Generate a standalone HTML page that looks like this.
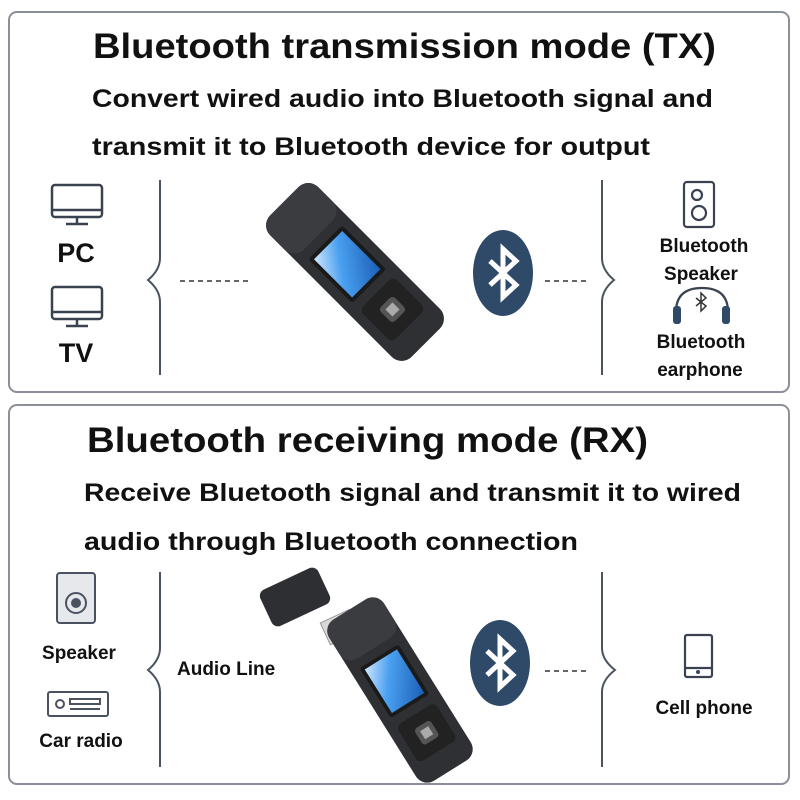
<!DOCTYPE html>
<html><head><meta charset="utf-8"><style>
html,body{margin:0;padding:0;background:#fff}
svg{display:block}
text{font-family:"Liberation Sans","DejaVu Sans",sans-serif;font-weight:bold;fill:#111}
</style></head><body>
<svg width="800" height="800" viewBox="0 0 800 800" xmlns="http://www.w3.org/2000/svg">
<defs>
<linearGradient id="scr" x1="0" y1="0" x2="1" y2="1">
<stop offset="0" stop-color="#cfe6ff"/><stop offset="0.4" stop-color="#4aa0f0"/><stop offset="1" stop-color="#1b5fb8"/>
</linearGradient>
<g id="bt">
<ellipse cx="0" cy="0" rx="30" ry="43" fill="#2f4a68"/>
<path d="M-13,-12 L13,12 L0,24 L0,-24 L13,-12 L-13,12" fill="none" stroke="#fff" stroke-width="5" stroke-linejoin="miter"/>
</g>
<g id="mon" fill="none" stroke="#3a4250" stroke-width="2.5">
<rect x="0" y="0" width="50" height="32" rx="3"/>
<line x1="0" y1="25" x2="50" y2="25"/>
<line x1="25" y1="32" x2="25" y2="38"/>
<line x1="14" y1="39" x2="36" y2="39"/>
</g>
<g id="dev">
<rect x="-34" y="-100" width="68" height="200" rx="14" fill="#2f3033"/>
<rect x="-34" y="-100" width="68" height="48" rx="14" fill="#3b3c40"/>
<rect x="-24" y="-42" width="48" height="62" rx="3" fill="#1a1a1a"/>
<rect x="-20" y="-38" width="40" height="54" fill="url(#scr)"/>
<rect x="-24" y="30" width="48" height="46" rx="6" fill="#222"/>
<rect x="-10" y="43" width="20" height="20" rx="4" fill="#555"/>
<rect x="-5" y="48" width="10" height="10" fill="#aaa"/>
</g>
</defs>

<rect x="9" y="12" width="780" height="380" rx="8" fill="none" stroke="#8a8f98" stroke-width="2"/>
<rect x="9" y="405" width="780" height="379" rx="8" fill="none" stroke="#8a8f98" stroke-width="2"/>

<text x="93" y="58" font-size="35" textLength="623" lengthAdjust="spacingAndGlyphs">Bluetooth transmission mode (TX)</text>
<text x="92" y="107" font-size="25" textLength="621" lengthAdjust="spacingAndGlyphs">Convert wired audio into Bluetooth signal and</text>
<text x="92" y="155" font-size="25" textLength="558" lengthAdjust="spacingAndGlyphs">transmit it to Bluetooth device for output</text>

<g fill="none" stroke="#4a5260" stroke-width="2">
<path d="M160,180 V258 Q160,270 148,280 Q160,290 160,302 V375"/>
<path d="M602,180 V258 Q602,270 614,280 Q602,290 602,302 V375"/>
<path d="M160,572 V648 Q160,660 148,670 Q160,680 160,692 V767"/>
<path d="M602,572 V648 Q602,660 615,670 Q602,680 602,692 V767"/>
</g>
<g stroke="#333" stroke-width="1.5" stroke-dasharray="5,4">
<line x1="180" y1="281" x2="252" y2="281"/>
<line x1="545" y1="281" x2="590" y2="281"/>
<line x1="545" y1="671" x2="590" y2="671"/>
</g>

<use href="#mon" x="52" y="185"/>
<text x="76" y="262" font-size="27" text-anchor="middle">PC</text>
<use href="#mon" x="52" y="287"/>
<text x="76" y="362" font-size="27" text-anchor="middle">TV</text>

<g transform="translate(355,272) rotate(-45)"><use href="#dev"/></g>
<use href="#bt" x="503" y="273"/>

<g fill="none" stroke="#3a4250" stroke-width="2.2">
<rect x="684" y="182" width="30" height="45" rx="3"/>
<circle cx="697" cy="195" r="5"/>
<circle cx="699" cy="213" r="7"/>
<path d="M676,312 Q676,288 702,288 Q728,288 728,312"/>
</g>
<rect x="673" y="306" width="8" height="18" rx="3" fill="#2f4a68"/>
<rect x="722" y="306" width="8" height="18" rx="3" fill="#2f4a68"/>
<path d="M696,298 L706,306 L701,311 L701,293 L706,298 L696,306" fill="none" stroke="#333" stroke-width="1.5"/>
<text x="704" y="252" font-size="19" text-anchor="middle">Bluetooth</text>
<text x="701" y="280" font-size="19" text-anchor="middle">Speaker</text>
<text x="701" y="348" font-size="19" text-anchor="middle">Bluetooth</text>
<text x="700" y="376" font-size="19" text-anchor="middle">earphone</text>

<text x="87" y="452" font-size="35" textLength="561" lengthAdjust="spacingAndGlyphs">Bluetooth receiving mode (RX)</text>
<text x="84" y="501" font-size="25" textLength="657" lengthAdjust="spacingAndGlyphs">Receive Bluetooth signal and transmit it to wired</text>
<text x="84" y="550" font-size="25" textLength="494" lengthAdjust="spacingAndGlyphs">audio through Bluetooth connection</text>

<g fill="none" stroke="#4a5260" stroke-width="2">
<rect x="57" y="573" width="38" height="50" rx="3" fill="#e6e8ec"/>
<circle cx="76" cy="603" r="10"/>
<circle cx="76" cy="603" r="4" fill="#4a5260"/>
<rect x="48" y="692" width="60" height="24" rx="2"/>
<circle cx="60" cy="704" r="4"/>
<rect x="70" y="699" width="30" height="5"/>
<line x1="70" y1="709" x2="100" y2="709"/>
</g>
<text x="79" y="659" font-size="19" text-anchor="middle">Speaker</text>
<text x="81" y="747" font-size="19" text-anchor="middle">Car radio</text>
<text x="177" y="675" font-size="19">Audio Line</text>

<g transform="translate(295,597) rotate(-25)"><rect x="-32" y="-20" width="64" height="40" rx="7" fill="#2e2f32"/></g>
<g transform="translate(338,628) rotate(-25)"><rect x="-14" y="-12" width="32" height="24" fill="#d8d8d8" stroke="#999"/></g>
<g transform="translate(400,690) rotate(-32) scale(0.95)"><use href="#dev"/></g>
<use href="#bt" x="500" y="663"/>

<g fill="none" stroke="#3a4250" stroke-width="2.2">
<rect x="685" y="635" width="27" height="42" rx="2"/>
<line x1="685" y1="668" x2="712" y2="668"/>
</g>
<circle cx="698" cy="672" r="2" fill="#2f4a68"/>
<text x="704" y="714" font-size="19" text-anchor="middle">Cell phone</text>
</svg>
</body></html>
